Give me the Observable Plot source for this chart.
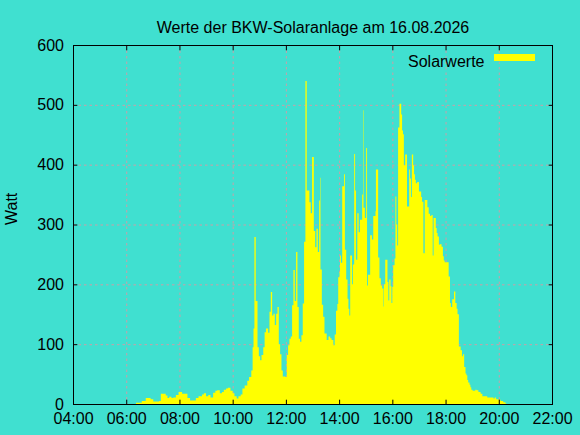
<!DOCTYPE html>
<html>
<head>
<meta charset="utf-8">
<script src="https://cdn.jsdelivr.net/npm/d3@7"></script>
<script src="https://cdn.jsdelivr.net/npm/@observablehq/plot@0.6"></script>
<style>
  html, body { margin: 0; padding: 0; background: #40e0d0; }
</style>
</head>
<body>
<div id="chart"></div>
<script>
const title = "Werte der BKW-Solaranlage am 16.08.2026";
const seriesName = "Solarwerte";
const yLabel = "Watt";

const xTicks = ["04:00","06:00","08:00","10:00","12:00","14:00","16:00","18:00","20:00","22:00"];
const yTicks = [0, 100, 200, 300, 400, 500, 600];

const times = [
"06:22","06:35","06:44","06:55","07:01","07:14","07:18","07:29","07:33","07:37",
"07:42","07:46","07:52","07:58","08:06","08:18","08:24","08:37","08:43","08:51",
"08:55","09:00","09:05","09:10","09:16","09:21","09:25","09:31","09:36","09:40",
"09:45","09:49","09:55","10:00","10:04","10:09","10:13","10:18","10:22","10:27",
"10:33","10:37","10:42","10:45","10:47","10:49","10:52","10:56","10:59","11:02",
"11:05","11:09","11:12","11:15","11:20","11:23","11:26","11:29","11:32","11:35",
"11:38","11:41","11:44","11:47","11:50","11:53","11:59","12:02","12:05","12:08",
"12:11","12:14","12:17","12:20","12:23","12:26","12:29","12:32","12:35","12:38",
"12:41","12:44","12:47","12:53","12:56","12:59","13:03","13:06","13:09","13:12",
"13:15","13:17","13:18","13:21","13:24","13:27","13:32","13:36","13:40","13:43",
"13:47","13:50","13:53","13:56","13:58","14:01","14:02","14:04","14:07","14:11",
"14:13","14:16","14:19","14:21","14:23","14:25","14:29","14:31","14:34","14:36",
"14:38","14:41","14:44","14:47","14:52","14:54","14:55","14:58","15:01","15:03",
"15:05","15:10","15:14","15:17","15:22","15:23","15:28","15:31","15:34","15:37",
"15:40","15:41","15:44","15:49","15:51","15:53","15:56","15:58","16:00","16:02",
"16:05","16:07","16:09","16:11","16:13","16:16","16:20","16:22","16:24","16:26",
"16:29","16:33","16:38","16:40","16:42","16:44","16:47","16:49","16:51","16:53",
"16:56","17:00","17:05","17:07","17:10","17:13","17:19","17:22","17:25","17:28",
"17:31","17:33","17:38","17:40","17:42","17:45","17:47","17:51","17:54","17:56",
"17:58","18:07","18:10","18:12","18:15","18:19","18:22","18:25","18:27","18:30",
"18:34","18:37","18:39","18:42","18:45","18:47","18:49","18:51","18:54","18:56",
"18:58","19:01","19:07","19:10","19:14","19:19","19:23","19:34","19:48","19:51",
"19:54","19:59","20:04","20:10","20:15","20:17"
];

const watts = [
2,5,10,8,4,5,17,14,10,12,
10,11,15,20,17,10,6,10,13,16,
18,13,15,11,19,22,23,18,20,24,
26,27,22,18,13,9,13,16,26,31,
39,45,56,95,126,279,172,95,80,73,
82,95,120,126,119,154,187,148,151,132,
151,162,100,83,56,46,45,82,98,109,
113,165,224,172,254,162,109,104,115,168,
271,540,357,337,319,413,289,262,293,254,
340,378,225,166,146,118,107,113,110,107,
98,116,156,167,212,221,248,236,364,384,
258,208,176,159,148,248,200,233,418,357,
241,319,287,308,350,491,328,311,428,198,
216,282,275,314,322,392,245,210,198,193,
163,200,241,204,173,208,197,169,196,232,
243,347,300,265,462,502,484,457,451,399,
417,330,392,377,346,417,399,384,375,369,
371,355,346,338,252,341,329,318,314,316,
248,311,294,286,280,266,267,263,247,240,
237,213,169,162,175,188,169,159,150,96,
90,80,83,62,51,48,40,36,32,28,
24,22,24,23,20,17,13,11,9,11,
8,7,5,3,1,0
];

const parse = d3.utcParse("%H:%M");
const fmt = d3.utcFormat("%H:%M");
const data = times.map((t, i) => ({t: parse(t), w: watts[i]}));
const xTickDates = xTicks.map(parse);

const gridColor = "#c8a0a8";
const ink = "#000000";
const noText = () => "";
const tl = 4.3; // inward tick length (gnuplot style)

const chart = Plot.plot({
  width: 580,
  height: 435,
  marginLeft: 73,
  marginRight: 28,
  marginTop: 45,
  marginBottom: 31,
  style: {
    background: "#40e0d0",
    fontFamily: "'Liberation Sans', Arial, sans-serif",
    fontSize: "16px",
    color: ink
  },
  x: {type: "utc", domain: [xTickDates[0], xTickDates[xTickDates.length - 1]], axis: null},
  y: {domain: [yTicks[0], yTicks[yTicks.length - 1]], axis: null},
  marks: [
    Plot.gridX(xTickDates.slice(1, -1), {stroke: gridColor, strokeOpacity: 1, strokeDasharray: "2.5,3"}),
    Plot.gridY(yTicks.slice(1, -1), {stroke: gridColor, strokeOpacity: 1, strokeDasharray: "2.5,3"}),
    Plot.areaY(data, {x: "t", y: "w", curve: "step-after", fill: "#ffff00"}),
    Plot.frame({stroke: ink}),
    Plot.axisX(xTickDates, {anchor: "bottom", label: null, tickSize: 0, tickPadding: 8.5, tickFormat: fmt, fontSize: 16}),
    Plot.axisX(xTickDates, {anchor: "bottom", label: null, tickSize: tl, dy: -tl, tickFormat: noText}),
    Plot.axisX(xTickDates, {anchor: "top", label: null, tickSize: tl, dy: tl, tickFormat: noText}),
    Plot.axisY(yTicks, {anchor: "left", label: null, tickSize: 0, tickPadding: 9.5, fontSize: 16}),
    Plot.axisY(yTicks, {anchor: "left", label: null, tickSize: tl, dx: tl, tickFormat: noText}),
    Plot.axisY(yTicks, {anchor: "right", label: null, tickSize: tl, dx: -tl, tickFormat: noText}),
    Plot.text([title], {frameAnchor: "top", dy: -24, fontSize: 16, fill: ink}),
    Plot.text([yLabel], {frameAnchor: "left", dx: -61.4, rotate: -90, fontSize: 16, fill: ink}),
    Plot.text([seriesName], {frameAnchor: "top-right", textAnchor: "end", dx: -68, dy: 10.6, fontSize: 16, fill: ink}),
    Plot.rect([seriesName], {fill: "#ffff00", insetLeft: 421, insetRight: 17, insetTop: 9, insetBottom: 343})
  ]
});

document.getElementById("chart").appendChild(chart);
</script>
</body>
</html>
